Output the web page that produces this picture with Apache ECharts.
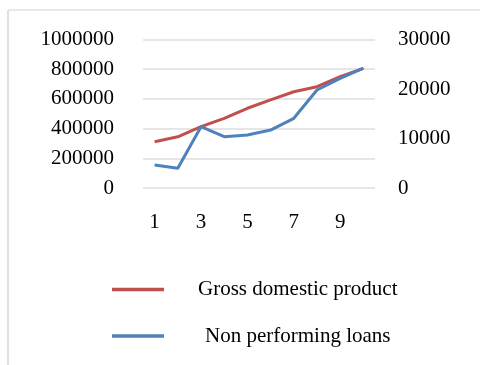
<!DOCTYPE html>
<html>
<head>
<meta charset="utf-8">
<script src="https://cdn.jsdelivr.net/npm/echarts@6/dist/echarts.min.js"></script>
<style>html,body{margin:0;padding:0;background:#fff}#c{width:480px;height:365px}</style>
</head>
<body>
<div id="c"></div>
<script>
const categories = ['1','2','3','4','5','6','7','8','9','10'];
const gdp = [312000, 345000, 413000, 469000, 537000, 593000, 648000, 682000, 750000, 806000];
const npl = [4650, 3980, 12380, 10360, 10700, 11700, 14080, 19800, 22160, 24240];
const leftTicks = { min: 0, max: 1000000, interval: 200000 };
const rightTicks = { min: 0, max: 30000, interval: 10000 };
const seriesNames = ['Gross domestic product', 'Non performing loans'];

const FONT = 'Liberation Serif';
const plain = v => String(v);
const chart = echarts.init(document.getElementById('c'), null, { renderer: 'canvas' });
chart.setOption({
  backgroundColor: '#ffffff',
  animation: false,
  textStyle: { fontFamily: FONT },
  grid: { left: 143, right: 105, top: 39.5, bottom: 177, containLabel: false },
  xAxis: {
    type: 'category', data: categories, boundaryGap: true,
    axisLine: { show: false }, axisTick: { show: false },
    axisLabel: { interval: 1, color: '#000', fontFamily: FONT, fontSize: 21, margin: 23.5 }
  },
  yAxis: [
    {
      type: 'value', position: 'left', min: leftTicks.min, max: leftTicks.max, interval: leftTicks.interval,
      axisLine: { show: false }, axisTick: { show: false },
      axisLabel: { color: '#000', fontFamily: FONT, fontSize: 21, margin: 29, formatter: plain },
      splitLine: { show: true, lineStyle: { color: '#dedede', width: 1.5 } }
    },
    {
      type: 'value', position: 'right', min: rightTicks.min, max: rightTicks.max, interval: rightTicks.interval,
      axisLine: { show: false }, axisTick: { show: false },
      axisLabel: { color: '#000', fontFamily: FONT, fontSize: 21, margin: 23, formatter: plain },
      splitLine: { show: false }
    }
  ],
  legend: [
    {
      data: [seriesNames[0]], left: 112, top: 279, orient: 'vertical', padding: 0,
      icon: 'rect', itemWidth: 52, itemHeight: 3.5,
      textStyle: { color: '#000', fontFamily: FONT, fontSize: 21, padding: [0, 0, 0, 29] }
    },
    {
      data: [seriesNames[1]], left: 112, top: 325.5, orient: 'vertical', padding: 0,
      icon: 'rect', itemWidth: 52, itemHeight: 3.5,
      textStyle: { color: '#000', fontFamily: FONT, fontSize: 21, padding: [0, 0, 0, 36] }
    }
  ],
  graphic: [
    { type: 'line', shape: { x1: 8, y1: 10, x2: 8, y2: 365 }, style: { stroke: '#d6d6d6', lineWidth: 1.5 }, silent: true },
    { type: 'line', shape: { x1: 8, y1: 10, x2: 480, y2: 10 }, style: { stroke: '#e2e2e2', lineWidth: 1.5 }, silent: true }
  ],
  series: [
    {
      name: seriesNames[0], type: 'line', yAxisIndex: 0, data: gdp,
      symbol: 'none', smooth: false, color: '#c0504d',
      lineStyle: { color: '#c0504d', width: 3 }
    },
    {
      name: seriesNames[1], type: 'line', yAxisIndex: 1, data: npl,
      symbol: 'none', smooth: false, color: '#4f81bd',
      lineStyle: { color: '#4f81bd', width: 3 }
    }
  ]
});
</script>
</body>
</html>
